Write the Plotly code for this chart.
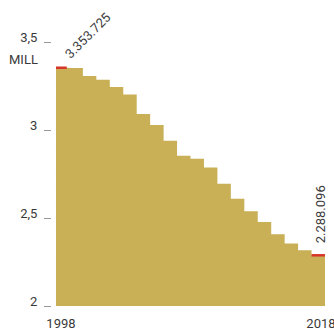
import plotly.graph_objects as go

# Data (millions), one value per yearly step
years = list(range(1998, 2018))
end_year = 2018
values = [3.353725, 3.352, 3.307, 3.286, 3.244, 3.201, 3.091, 3.028, 2.939, 2.854,
          2.837, 2.787, 2.695, 2.610, 2.538, 2.477, 2.407, 2.355, 2.317, 2.288096]
first_label = "3.353.725"
last_label = "2.288.096"
y_ticks = [2, 2.5, 3, 3.5]
y_ticktext = ["2", "2,5", "3", "3,5"]
x_ticktext = ["1998", "2018"]

GOLD = "#C9AF56"
RED = "#D8352A"
TXT = "#3a3a3a"
FONT = "Roboto"

step_x = years + [end_year]
step_y = values + [values[-1]]

fig = go.Figure()
fig.add_trace(go.Scatter(
    x=step_x, y=step_y, mode="lines", line=dict(shape="hv", width=0, color=GOLD),
    fill="tozeroy", fillcolor=GOLD, hoverinfo="skip", showlegend=False))
# red highlight marks on first and last step
fig.add_trace(go.Scatter(
    x=[years[0], years[0] + 0.8], y=[values[0], values[0]], mode="lines",
    line=dict(color=RED, width=2.5), showlegend=False, hoverinfo="skip"))
fig.add_trace(go.Scatter(
    x=[years[-1], end_year], y=[values[-1], values[-1]], mode="lines",
    line=dict(color=RED, width=2.5), showlegend=False, hoverinfo="skip"))

fig.add_annotation(x=years[0], y=values[0], xref="x", yref="y", text=first_label,
                   textangle=-45, showarrow=False, xanchor="center", yanchor="middle",
                   xshift=32, yshift=32, font=dict(family=FONT, size=13, color=TXT))
fig.add_annotation(x=end_year, y=values[-1], xref="x", yref="y", text=last_label,
                   textangle=-90, showarrow=False, xanchor="center", yanchor="middle",
                   xshift=-5, yshift=41, font=dict(family=FONT, size=13, color=TXT))
fig.add_annotation(x=0, y=3.4, xref="paper", yref="y", text="MILL", showarrow=False,
                   xanchor="right", yanchor="middle", xshift=-12,
                   font=dict(family=FONT, size=13, color=TXT))

fig.update_layout(
    width=334, height=331,
    margin=dict(l=52, r=9, t=42, b=25, autoexpand=False),
    paper_bgcolor="white", plot_bgcolor="white",
    font=dict(family=FONT, size=13, color=TXT),
    xaxis=dict(range=[1997.703, 2018], showgrid=False, zeroline=False, showline=False,
               tickvals=[1998.37, 2017.7], ticktext=x_ticktext, ticks="",
               ticklabelstandoff=8, ticklabeloverflow="allow", automargin=False),
    yaxis=dict(range=[2, 3.5], showgrid=False, zeroline=False, showline=False,
               tickvals=y_ticks, ticktext=y_ticktext, ticks="outside", ticklen=7,
               tickcolor="#999999", tickwidth=1.2, ticklabelshift=-5,
               ticklabelstandoff=4, ticklabeloverflow="allow", automargin=False),
)
fig.write_html("out.html")
